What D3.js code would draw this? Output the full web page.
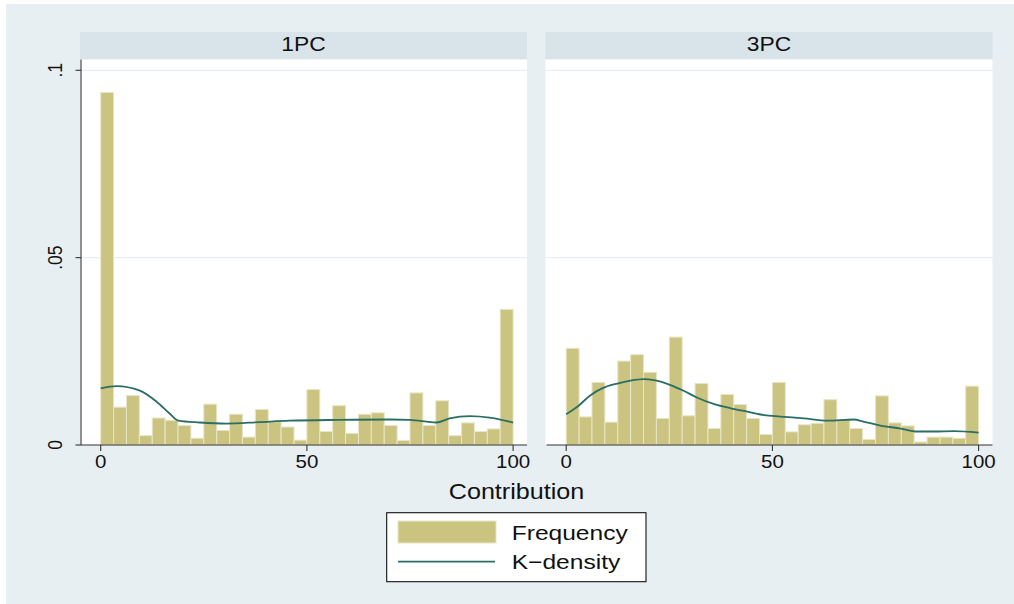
<!DOCTYPE html>
<html>
<head>
<meta charset="utf-8">
<script src="https://cdn.jsdelivr.net/npm/d3@7"></script>
<style>
  body { margin: 0; background: #fff; }
  text { font-family: "Liberation Sans", Arial, Helvetica, sans-serif; fill: #111; }
</style>
</head>
<body>
<div class="root"></div>
<script>
// histogram densities, 32 bins over 0-100
const panels = ['1PC', '3PC'];
const pc1Density = [0.0941, 0.0101, 0.0132, 0.0025, 0.0072, 0.0066, 0.0052, 0.0018,
  0.0109, 0.0039, 0.0082, 0.0021, 0.0095, 0.0062, 0.0048, 0.0013,
  0.0148, 0.0036, 0.0105, 0.0031, 0.0082, 0.0086, 0.0052, 0.0012,
  0.0139, 0.0052, 0.0118, 0.0025, 0.0059, 0.0036, 0.0043, 0.0362];
const pc3Density = [0.0258, 0.0075, 0.0167, 0.0061, 0.0224, 0.0241, 0.0194, 0.0071,
  0.0288, 0.0078, 0.0164, 0.0044, 0.0135, 0.0108, 0.0071, 0.0028,
  0.0167, 0.0035, 0.0054, 0.0058, 0.0121, 0.0067, 0.0044, 0.0015,
  0.0131, 0.0059, 0.0051, 0.0008, 0.0021, 0.0021, 0.0018, 0.0157];

// kernel density curves
const pc1KdeX = [0, 3.8, 9.5, 13.5, 16.7, 18.8, 24, 30.4, 38.5, 45.8, 58, 70.1, 75, 81.4, 84.6, 89.5, 94.3, 100];
const pc1KdeY = [0.0151, 0.0157, 0.0145, 0.0116, 0.0084, 0.0065, 0.0060, 0.0057, 0.0061, 0.0065,
  0.0067, 0.0068, 0.0067, 0.0060, 0.0071, 0.0077, 0.0073, 0.0060];
const pc3KdeX = [0, 2.7, 5.9, 8.7, 12.4, 15.6, 18.9, 21.3, 25.3, 28.6, 31.8, 35.9, 39.9, 43.9,
  48, 51.9, 57.6, 63.3, 69.7, 72.2, 76.2, 81.1, 85.1, 89.1, 94, 100];
const pc3KdeY = [0.0082, 0.0102, 0.0133, 0.0151, 0.0164, 0.0172, 0.0176, 0.0173, 0.0160, 0.0144,
  0.0126, 0.0109, 0.0098, 0.0089, 0.0080, 0.0076, 0.0071, 0.0065, 0.0068, 0.0062,
  0.0052, 0.0044, 0.0036, 0.0036, 0.0037, 0.0033];

const xTicks = [0, 50, 100];
const yTicks = [0, 0.05, 0.1];
const yTickLabels = ['0', '.05', '.1'];
const legendLabels = ['Frequency', 'K\u2212density'];

const densities = [pc1Density, pc3Density];
const kdes = [
  pc1KdeX.map((x, i) => [x, pc1KdeY[i]]),
  pc3KdeX.map((x, i) => [x, pc3KdeY[i]])
];

const width = 1014;
const height = 604;
const sx = 1.17; // text in the reference is stretched horizontally
const barFill = '#cbc480';
const barEdge = '#e9e5c6';
const lineColor = '#2a6e64';

const svg = d3.select('.root')
  .append('svg')
  .attr('width', width)
  .attr('height', height);

svg.append('rect')
  .attr('x', 6).attr('y', 4)
  .attr('width', width - 6).attr('height', height - 4)
  .attr('fill', '#e8eff2');

const plotTop = 59.5;
const plotBottom = 445;
const panelLefts = [80, 545.5];
const panelWidth = 447;

const y = d3.scaleLinear().domain([0, 0.1]).range([plotBottom, 70.3]);

const label = (g, txt, x, yy, size, anchor, rotate) => g.append('text')
  .attr('transform', `translate(${x},${yy}) scale(${sx},1)` + (rotate ? ' rotate(-90)' : ''))
  .attr('text-anchor', anchor)
  .style('font-size', size + 'px')
  .text(txt);

panels.forEach((name, p) => {
  const left = panelLefts[p];
  const g = svg.append('g');
  const x = d3.scaleLinear().domain([0, 100]).range([left + 20.7, left + 20.7 + 412.4]);
  const binW = 100 / densities[p].length;

  // header band
  g.append('rect')
    .attr('x', left).attr('y', 32)
    .attr('width', panelWidth).attr('height', plotTop - 32)
    .attr('fill', '#d8e4ea');
  label(g, name, left + panelWidth / 2, 51, 19.5, 'middle');

  // plot region
  g.append('rect')
    .attr('x', left).attr('y', plotTop)
    .attr('width', panelWidth).attr('height', plotBottom - plotTop)
    .attr('fill', '#fff');

  g.selectAll('.grid')
    .data(yTicks.filter(d => d > 0))
    .enter()
    .append('line')
    .attr('x1', left).attr('x2', left + panelWidth)
    .attr('y1', d => y(d)).attr('y2', d => y(d))
    .attr('stroke', '#e5eef1')
    .attr('stroke-width', 1.2);

  g.selectAll('.bar')
    .data(densities[p])
    .enter()
    .append('rect')
    .attr('x', (d, i) => x(i * binW))
    .attr('y', d => y(d))
    .attr('width', x(binW) - x(0))
    .attr('height', d => y(0) - y(d))
    .attr('fill', barFill)
    .attr('stroke', barEdge)
    .attr('stroke-width', 1);

  g.append('path')
    .datum(kdes[p])
    .attr('fill', 'none')
    .attr('stroke', lineColor)
    .attr('stroke-width', 1.8)
    .attr('d', d3.line().x(d => x(d[0])).y(d => y(d[1])).curve(d3.curveMonotoneX));

  // x axis
  g.append('line')
    .attr('x1', left + 1).attr('x2', left + panelWidth)
    .attr('y1', plotBottom).attr('y2', plotBottom)
    .attr('stroke', '#333').attr('stroke-width', 1.1);
  xTicks.forEach(t => {
    g.append('line')
      .attr('x1', x(t)).attr('x2', x(t))
      .attr('y1', plotBottom).attr('y2', plotBottom + 6)
      .attr('stroke', '#333').attr('stroke-width', 1.1);
    label(g, t, x(t), 468, 17.5, 'middle');
  });

  // y axis only on the first panel
  if (p === 0) {
    g.append('line')
      .attr('x1', left + 1).attr('x2', left + 1)
      .attr('y1', plotTop).attr('y2', plotBottom)
      .attr('stroke', '#333').attr('stroke-width', 1.1);
    yTicks.forEach((t, i) => {
      g.append('line')
        .attr('x1', left - 4.5).attr('x2', left + 1)
        .attr('y1', y(t)).attr('y2', y(t))
        .attr('stroke', '#333').attr('stroke-width', 1.1);
      label(g, yTickLabels[i], 61.5, y(t), 17.5, 'middle', true);
    });
  }
});

label(svg, 'Contribution', 516.5, 499, 21.5, 'middle');

// legend
const lg = svg.append('g');
lg.append('rect')
  .attr('x', 386.7).attr('y', 512.7)
  .attr('width', 259.3).attr('height', 69)
  .attr('fill', '#fff')
  .attr('stroke', '#111')
  .attr('stroke-width', 1.1);
lg.append('rect')
  .attr('x', 398).attr('y', 521)
  .attr('width', 98).attr('height', 22)
  .attr('fill', barFill)
  .attr('stroke', barEdge)
  .attr('stroke-width', 1);
lg.append('line')
  .attr('x1', 398).attr('x2', 495)
  .attr('y1', 561.7).attr('y2', 561.7)
  .attr('stroke', lineColor)
  .attr('stroke-width', 1.8);
label(lg, legendLabels[0], 511.7, 540, 21, 'start');
label(lg, legendLabels[1], 511.7, 569.3, 21, 'start');
</script>
</body>
</html>
